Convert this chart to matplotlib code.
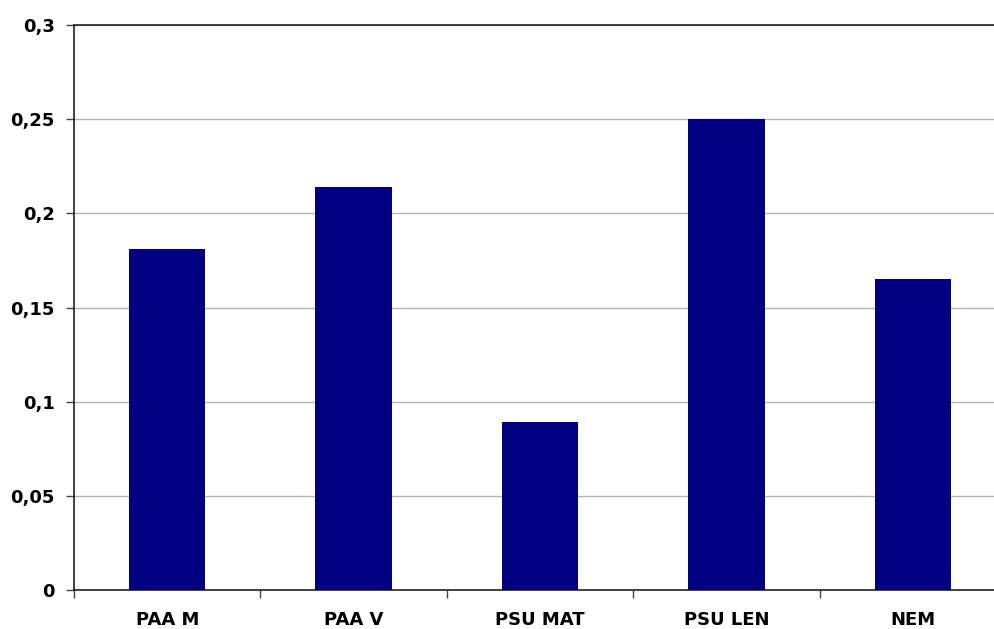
import numpy as np
import matplotlib.pyplot as plt

categories = ["PAA M", "PAA V", "PSU MAT", "PSU LEN", "NEM"]
values = [0.181, 0.214, 0.089, 0.250, 0.165]
yticks = [0, 0.05, 0.1, 0.15, 0.2, 0.25, 0.3]
ytick_labels = ["0", "0,05", "0,1", "0,15", "0,2", "0,25", "0,3"]

fig = plt.figure(figsize=(9.95, 6.29), dpi=100)
ax = fig.add_axes([74 / 995, 39 / 629, 932 / 995, 565 / 629])

x = np.arange(len(categories))
ax.bar(x, values, width=0.41, color="#000080", zorder=3)

ax.set_xlim(-0.5, len(categories) - 0.5)
ax.set_ylim(0, 0.3)

ax.set_yticks(yticks)
ax.set_yticklabels(ytick_labels, fontsize=13, fontweight="bold")
ax.yaxis.grid(True, color="#b4b4b4", linewidth=1.0, zorder=0)
ax.set_axisbelow(True)

# category labels centered, ticks at boundaries
ax.set_xticks(x)
ax.set_xticklabels(categories, fontsize=13, fontweight="bold")
ax.tick_params(axis="x", which="major", length=0, pad=15)
ax.set_xticks(np.arange(len(categories) + 1) - 0.5, minor=True)
ax.tick_params(axis="x", which="minor", length=6, width=1, color="#444444", direction="out")
ax.tick_params(axis="y", length=6, width=1, color="#444444", pad=8)

for side in ["left", "bottom", "top"]:
    ax.spines[side].set_color("#222222")
    ax.spines[side].set_linewidth(1.2)
ax.spines["right"].set_visible(False)

fig.savefig("out.png", dpi=100)
